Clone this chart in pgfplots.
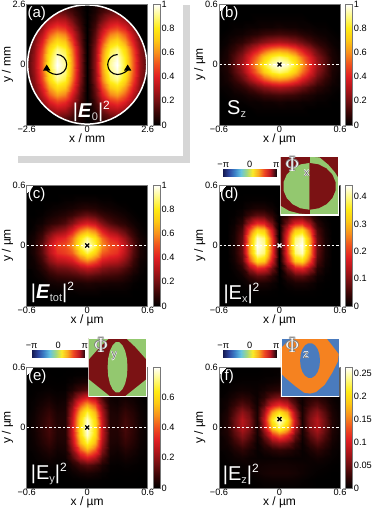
\documentclass[border=0pt]{standalone}
\usepackage{fontspec}
\setmainfont{Liberation Sans}
\usepackage{pgfplots}
\pgfplotsset{compat=1.18}
\usepackage{pgfplotstable}
\usetikzlibrary{arrows.meta}
\pgfplotstableread[row sep=crcr]{
v\\
0.01\\0.03\\0.05\\0.08\\0.10\\0.09\\0.06\\0.03\\0\\0.03\\0.06\\0.09\\0.10\\0.08\\0.05\\0.03\\0.01\\
0.02\\0.05\\0.10\\0.16\\0.19\\0.17\\0.12\\0.05\\0\\0.05\\0.12\\0.17\\0.19\\0.16\\0.10\\0.05\\0.02\\
0.04\\0.08\\0.16\\0.25\\0.31\\0.29\\0.19\\0.08\\0\\0.08\\0.19\\0.29\\0.31\\0.25\\0.16\\0.08\\0.04\\
0.06\\0.12\\0.24\\0.38\\0.46\\0.42\\0.29\\0.12\\0\\0.12\\0.29\\0.42\\0.46\\0.38\\0.24\\0.12\\0.06\\
0.07\\0.17\\0.32\\0.51\\0.62\\0.57\\0.38\\0.16\\0\\0.16\\0.38\\0.57\\0.62\\0.51\\0.32\\0.17\\0.07\\
0.09\\0.21\\0.40\\0.63\\0.77\\0.71\\0.48\\0.19\\0\\0.19\\0.48\\0.71\\0.77\\0.63\\0.40\\0.21\\0.09\\
0.11\\0.24\\0.47\\0.74\\0.90\\0.83\\0.56\\0.23\\0\\0.23\\0.56\\0.83\\0.90\\0.74\\0.47\\0.24\\0.11\\
0.12\\0.26\\0.51\\0.80\\0.97\\0.90\\0.60\\0.24\\0\\0.24\\0.60\\0.90\\0.97\\0.80\\0.51\\0.26\\0.12\\
0.12\\0.27\\0.52\\0.82\\1.00\\0.92\\0.62\\0.25\\0\\0.25\\0.62\\0.92\\1.00\\0.82\\0.52\\0.27\\0.12\\
0.12\\0.26\\0.51\\0.80\\0.97\\0.90\\0.60\\0.24\\0\\0.24\\0.60\\0.90\\0.97\\0.80\\0.51\\0.26\\0.12\\
0.11\\0.24\\0.47\\0.74\\0.90\\0.83\\0.56\\0.23\\0\\0.23\\0.56\\0.83\\0.90\\0.74\\0.47\\0.24\\0.11\\
0.09\\0.21\\0.40\\0.63\\0.77\\0.71\\0.48\\0.19\\0\\0.19\\0.48\\0.71\\0.77\\0.63\\0.40\\0.21\\0.09\\
0.07\\0.17\\0.32\\0.51\\0.62\\0.57\\0.38\\0.16\\0\\0.16\\0.38\\0.57\\0.62\\0.51\\0.32\\0.17\\0.07\\
0.06\\0.12\\0.24\\0.38\\0.46\\0.42\\0.29\\0.12\\0\\0.12\\0.29\\0.42\\0.46\\0.38\\0.24\\0.12\\0.06\\
0.04\\0.08\\0.16\\0.25\\0.31\\0.29\\0.19\\0.08\\0\\0.08\\0.19\\0.29\\0.31\\0.25\\0.16\\0.08\\0.04\\
0.02\\0.05\\0.10\\0.16\\0.19\\0.17\\0.12\\0.05\\0\\0.05\\0.12\\0.17\\0.19\\0.16\\0.10\\0.05\\0.02\\
0.01\\0.03\\0.05\\0.08\\0.10\\0.09\\0.06\\0.03\\0\\0.03\\0.06\\0.09\\0.10\\0.08\\0.05\\0.03\\0.01\\
}\tabA
\pgfplotstableread[row sep=crcr]{
v\\
0\\0\\0\\0\\0\\0\\0\\0\\0\\0\\0\\0\\0\\0\\0\\0\\0\\
0\\0\\0\\0\\0\\0\\0\\0\\0\\0\\0\\0\\0\\0\\0\\0\\0\\
0\\0\\0\\0\\0\\0.01\\0.01\\0.01\\0.01\\0.01\\0.01\\0.01\\0\\0\\0\\0\\0\\
0\\0\\0.01\\0.01\\0.02\\0.02\\0.03\\0.03\\0.04\\0.03\\0.03\\0.02\\0.02\\0.01\\0.01\\0\\0\\
0\\0.01\\0.02\\0.03\\0.05\\0.07\\0.10\\0.11\\0.12\\0.11\\0.10\\0.07\\0.05\\0.03\\0.02\\0.01\\0\\
0.01\\0.02\\0.05\\0.08\\0.13\\0.19\\0.24\\0.28\\0.30\\0.28\\0.24\\0.19\\0.13\\0.08\\0.05\\0.02\\0.01\\
0.01\\0.04\\0.09\\0.16\\0.26\\0.37\\0.48\\0.56\\0.59\\0.56\\0.48\\0.37\\0.26\\0.16\\0.09\\0.04\\0.01\\
0.02\\0.05\\0.14\\0.24\\0.39\\0.55\\0.71\\0.83\\0.88\\0.83\\0.71\\0.55\\0.39\\0.24\\0.14\\0.05\\0.02\\
0.02\\0.06\\0.16\\0.28\\0.44\\0.63\\0.82\\0.95\\1.00\\0.95\\0.82\\0.63\\0.44\\0.28\\0.16\\0.06\\0.02\\
0.02\\0.05\\0.14\\0.24\\0.39\\0.55\\0.71\\0.83\\0.88\\0.83\\0.71\\0.55\\0.39\\0.24\\0.14\\0.05\\0.02\\
0.01\\0.04\\0.09\\0.16\\0.26\\0.37\\0.48\\0.56\\0.59\\0.56\\0.48\\0.37\\0.26\\0.16\\0.09\\0.04\\0.01\\
0.01\\0.02\\0.05\\0.08\\0.13\\0.19\\0.24\\0.28\\0.30\\0.28\\0.24\\0.19\\0.13\\0.08\\0.05\\0.02\\0.01\\
0\\0.01\\0.02\\0.03\\0.05\\0.07\\0.10\\0.11\\0.12\\0.11\\0.10\\0.07\\0.05\\0.03\\0.02\\0.01\\0\\
0\\0\\0.01\\0.01\\0.02\\0.02\\0.03\\0.03\\0.04\\0.03\\0.03\\0.02\\0.02\\0.01\\0.01\\0\\0\\
0\\0\\0\\0\\0\\0.01\\0.01\\0.01\\0.01\\0.01\\0.01\\0.01\\0\\0\\0\\0\\0\\
0\\0\\0\\0\\0\\0\\0\\0\\0\\0\\0\\0\\0\\0\\0\\0\\0\\
0\\0\\0\\0\\0\\0\\0\\0\\0\\0\\0\\0\\0\\0\\0\\0\\0\\
}\tabB
\pgfplotstableread[row sep=crcr]{
v\\
0\\0\\0\\0\\0\\0\\0\\0\\0\\0\\0\\0\\0\\0\\0\\0\\0\\
0\\0\\0\\0\\0\\0\\0\\0\\0\\0\\0\\0\\0\\0\\0\\0\\0\\
0\\0\\0\\0.01\\0.01\\0.01\\0.01\\0.02\\0.02\\0.02\\0.01\\0.01\\0.01\\0.01\\0\\0\\0\\
0\\0\\0.01\\0.03\\0.04\\0.04\\0.05\\0.05\\0.06\\0.05\\0.05\\0.04\\0.04\\0.03\\0.01\\0\\0\\
0\\0.01\\0.03\\0.07\\0.10\\0.11\\0.12\\0.14\\0.16\\0.14\\0.12\\0.11\\0.10\\0.07\\0.03\\0.01\\0\\
0\\0.02\\0.07\\0.14\\0.19\\0.20\\0.23\\0.29\\0.33\\0.29\\0.23\\0.20\\0.19\\0.14\\0.07\\0.02\\0\\
0.01\\0.03\\0.11\\0.23\\0.31\\0.33\\0.37\\0.50\\0.58\\0.50\\0.37\\0.33\\0.31\\0.23\\0.11\\0.03\\0.01\\
0.01\\0.05\\0.15\\0.31\\0.43\\0.46\\0.52\\0.72\\0.85\\0.72\\0.52\\0.46\\0.43\\0.31\\0.15\\0.05\\0.01\\
0.01\\0.05\\0.16\\0.33\\0.47\\0.50\\0.60\\0.85\\1.00\\0.85\\0.60\\0.50\\0.47\\0.33\\0.16\\0.05\\0.01\\
0.01\\0.04\\0.12\\0.26\\0.38\\0.42\\0.55\\0.78\\0.90\\0.78\\0.55\\0.42\\0.38\\0.26\\0.12\\0.04\\0.01\\
0\\0.02\\0.07\\0.15\\0.22\\0.27\\0.38\\0.56\\0.64\\0.56\\0.38\\0.27\\0.22\\0.15\\0.07\\0.02\\0\\
0\\0.01\\0.03\\0.07\\0.10\\0.14\\0.22\\0.33\\0.38\\0.33\\0.22\\0.14\\0.10\\0.07\\0.03\\0.01\\0\\
0\\0\\0.01\\0.03\\0.05\\0.07\\0.10\\0.15\\0.18\\0.15\\0.10\\0.07\\0.05\\0.03\\0.01\\0\\0\\
0\\0\\0\\0.01\\0.02\\0.03\\0.04\\0.06\\0.07\\0.06\\0.04\\0.03\\0.02\\0.01\\0\\0\\0\\
0\\0\\0\\0\\0\\0.01\\0.01\\0.02\\0.02\\0.02\\0.01\\0.01\\0\\0\\0\\0\\0\\
0\\0\\0\\0\\0\\0\\0\\0\\0\\0\\0\\0\\0\\0\\0\\0\\0\\
0\\0\\0\\0\\0\\0\\0\\0\\0\\0\\0\\0\\0\\0\\0\\0\\0\\
}\tabC
\pgfplotstableread[row sep=crcr]{
v\\
0\\0\\0\\0\\0\\0\\0\\0\\0\\0\\0\\0\\0\\0\\0\\0\\0\\
0\\0\\0\\0\\0\\0\\0\\0\\0\\0\\0\\0\\0\\0\\0\\0\\0\\
0\\0\\0\\0.001\\0.003\\0.004\\0.004\\0.002\\0\\0.002\\0.004\\0.004\\0.003\\0.001\\0\\0\\0\\
0\\0\\0.001\\0.004\\0.014\\0.022\\0.021\\0.011\\0\\0.011\\0.021\\0.022\\0.014\\0.004\\0.001\\0\\0\\
0\\0\\0.003\\0.013\\0.045\\0.070\\0.066\\0.034\\0\\0.034\\0.066\\0.070\\0.045\\0.013\\0.003\\0\\0\\
0\\0\\0.008\\0.034\\0.118\\0.185\\0.172\\0.088\\0\\0.088\\0.172\\0.185\\0.118\\0.034\\0.008\\0\\0\\
0\\0\\0.015\\0.061\\0.213\\0.334\\0.312\\0.160\\0\\0.160\\0.312\\0.334\\0.213\\0.061\\0.015\\0\\0\\
0\\0\\0.019\\0.077\\0.269\\0.422\\0.394\\0.202\\0\\0.202\\0.394\\0.422\\0.269\\0.077\\0.019\\0\\0\\
0\\0\\0.020\\0.080\\0.280\\0.440\\0.410\\0.210\\0\\0.210\\0.410\\0.440\\0.280\\0.080\\0.020\\0\\0\\
0\\0\\0.019\\0.077\\0.269\\0.422\\0.394\\0.202\\0\\0.202\\0.394\\0.422\\0.269\\0.077\\0.019\\0\\0\\
0\\0\\0.015\\0.061\\0.213\\0.334\\0.312\\0.160\\0\\0.160\\0.312\\0.334\\0.213\\0.061\\0.015\\0\\0\\
0\\0\\0.008\\0.034\\0.118\\0.185\\0.172\\0.088\\0\\0.088\\0.172\\0.185\\0.118\\0.034\\0.008\\0\\0\\
0\\0\\0.003\\0.013\\0.045\\0.070\\0.066\\0.034\\0\\0.034\\0.066\\0.070\\0.045\\0.013\\0.003\\0\\0\\
0\\0\\0.001\\0.004\\0.014\\0.022\\0.021\\0.011\\0\\0.011\\0.021\\0.022\\0.014\\0.004\\0.001\\0\\0\\
0\\0\\0\\0.001\\0.003\\0.004\\0.004\\0.002\\0\\0.002\\0.004\\0.004\\0.003\\0.001\\0\\0\\0\\
0\\0\\0\\0\\0\\0\\0\\0\\0\\0\\0\\0\\0\\0\\0\\0\\0\\
0\\0\\0\\0\\0\\0\\0\\0\\0\\0\\0\\0\\0\\0\\0\\0\\0\\
}\tabD
\pgfplotstableread[row sep=crcr]{
v\\
0\\0\\0\\0\\0\\0\\0\\0\\0\\0\\0\\0\\0\\0\\0\\0\\0\\
0\\0\\0.001\\0.001\\0\\0.001\\0.003\\0.006\\0.008\\0.006\\0.003\\0.001\\0\\0.001\\0.001\\0\\0\\
0\\0.001\\0.002\\0.003\\0.002\\0.003\\0.014\\0.031\\0.040\\0.031\\0.014\\0.003\\0.002\\0.003\\0.002\\0.001\\0\\
0.001\\0.003\\0.007\\0.011\\0.006\\0.008\\0.042\\0.093\\0.119\\0.093\\0.042\\0.008\\0.006\\0.011\\0.007\\0.003\\0.001\\
0.002\\0.007\\0.018\\0.027\\0.014\\0.019\\0.106\\0.236\\0.300\\0.236\\0.106\\0.019\\0.014\\0.027\\0.018\\0.007\\0.002\\
0.003\\0.013\\0.033\\0.050\\0.025\\0.033\\0.182\\0.403\\0.514\\0.403\\0.182\\0.033\\0.025\\0.050\\0.033\\0.013\\0.003\\
0.005\\0.019\\0.049\\0.075\\0.038\\0.043\\0.238\\0.527\\0.672\\0.527\\0.238\\0.043\\0.038\\0.075\\0.049\\0.019\\0.005\\
0.006\\0.023\\0.060\\0.092\\0.046\\0.049\\0.272\\0.601\\0.766\\0.601\\0.272\\0.049\\0.046\\0.092\\0.060\\0.023\\0.006\\
0.006\\0.025\\0.065\\0.100\\0.050\\0.050\\0.280\\0.620\\0.790\\0.620\\0.280\\0.050\\0.050\\0.100\\0.065\\0.025\\0.006\\
0.006\\0.023\\0.060\\0.092\\0.046\\0.049\\0.272\\0.601\\0.766\\0.601\\0.272\\0.049\\0.046\\0.092\\0.060\\0.023\\0.006\\
0.005\\0.019\\0.049\\0.075\\0.038\\0.043\\0.238\\0.527\\0.672\\0.527\\0.238\\0.043\\0.038\\0.075\\0.049\\0.019\\0.005\\
0.003\\0.013\\0.033\\0.050\\0.025\\0.033\\0.182\\0.403\\0.514\\0.403\\0.182\\0.033\\0.025\\0.050\\0.033\\0.013\\0.003\\
0.002\\0.007\\0.018\\0.027\\0.014\\0.019\\0.106\\0.236\\0.300\\0.236\\0.106\\0.019\\0.014\\0.027\\0.018\\0.007\\0.002\\
0.001\\0.003\\0.007\\0.011\\0.006\\0.008\\0.042\\0.093\\0.119\\0.093\\0.042\\0.008\\0.006\\0.011\\0.007\\0.003\\0.001\\
0\\0.001\\0.002\\0.003\\0.002\\0.003\\0.014\\0.031\\0.040\\0.031\\0.014\\0.003\\0.002\\0.003\\0.002\\0.001\\0\\
0\\0\\0.001\\0.001\\0\\0.001\\0.003\\0.006\\0.008\\0.006\\0.003\\0.001\\0\\0.001\\0.001\\0\\0\\
0\\0\\0\\0\\0\\0\\0\\0\\0\\0\\0\\0\\0\\0\\0\\0\\0\\
}\tabE
\pgfplotstableread[row sep=crcr]{
v\\
0\\0\\0\\0\\0.001\\0.001\\0.002\\0.002\\0.002\\0.002\\0.002\\0.001\\0.001\\0\\0\\0\\0\\
0\\0\\0\\0\\0.001\\0.003\\0.005\\0.006\\0.006\\0.006\\0.005\\0.003\\0.001\\0\\0\\0\\0\\
0\\0\\0.001\\0.002\\0.004\\0.007\\0.010\\0.012\\0.012\\0.012\\0.010\\0.007\\0.004\\0.002\\0.001\\0\\0\\
0\\0.001\\0.003\\0.004\\0.005\\0.007\\0.008\\0.009\\0.009\\0.009\\0.008\\0.007\\0.005\\0.004\\0.003\\0.001\\0\\
0.001\\0.003\\0.006\\0.009\\0.006\\0.004\\0.004\\0.005\\0.006\\0.005\\0.004\\0.004\\0.006\\0.009\\0.006\\0.003\\0.001\\
0.002\\0.005\\0.013\\0.021\\0.013\\0.004\\0.011\\0.018\\0.022\\0.018\\0.011\\0.004\\0.013\\0.021\\0.013\\0.005\\0.002\\
0.003\\0.009\\0.024\\0.040\\0.026\\0.005\\0.025\\0.054\\0.065\\0.054\\0.025\\0.005\\0.026\\0.040\\0.024\\0.009\\0.003\\
0.004\\0.013\\0.037\\0.062\\0.043\\0.009\\0.050\\0.113\\0.140\\0.113\\0.050\\0.009\\0.043\\0.062\\0.037\\0.013\\0.004\\
0.005\\0.016\\0.047\\0.080\\0.058\\0.012\\0.078\\0.183\\0.225\\0.183\\0.078\\0.012\\0.058\\0.080\\0.047\\0.016\\0.005\\
0.005\\0.016\\0.048\\0.082\\0.060\\0.013\\0.090\\0.210\\0.260\\0.210\\0.090\\0.013\\0.060\\0.082\\0.048\\0.016\\0.005\\
0.004\\0.013\\0.038\\0.065\\0.048\\0.012\\0.072\\0.167\\0.205\\0.167\\0.072\\0.012\\0.048\\0.065\\0.038\\0.013\\0.004\\
0.003\\0.009\\0.024\\0.040\\0.030\\0.008\\0.042\\0.095\\0.115\\0.095\\0.042\\0.008\\0.030\\0.040\\0.024\\0.009\\0.003\\
0.002\\0.005\\0.012\\0.020\\0.016\\0.006\\0.020\\0.045\\0.055\\0.045\\0.020\\0.006\\0.016\\0.020\\0.012\\0.005\\0.002\\
0.001\\0.002\\0.005\\0.008\\0.007\\0.005\\0.010\\0.017\\0.020\\0.017\\0.010\\0.005\\0.007\\0.008\\0.005\\0.002\\0.001\\
0\\0.001\\0.002\\0.003\\0.003\\0.003\\0.004\\0.006\\0.008\\0.006\\0.004\\0.003\\0.003\\0.003\\0.002\\0.001\\0\\
0\\0\\0\\0.001\\0.001\\0.001\\0.002\\0.002\\0.003\\0.002\\0.002\\0.001\\0.001\\0.001\\0\\0\\0\\
0\\0\\0\\0\\0\\0\\0.001\\0.002\\0.002\\0.002\\0.001\\0\\0\\0\\0\\0\\0\\
}\tabF
\definecolor{phgreen}{RGB}{147,200,111}
\definecolor{phred}{RGB}{123,18,20}
\definecolor{phblue}{RGB}{74,123,189}
\definecolor{phorange}{RGB}{245,130,32}
\definecolor{bandgray}{RGB}{214,214,214}
\definecolor{framegray}{RGB}{120,120,120}
\pgfplotsset{
  colormap={hotk}{rgb255=(0,0,0) rgb255=(55,5,5) rgb255=(115,15,18) rgb255=(175,20,25) rgb255=(225,30,35) rgb255=(240,80,30) rgb255=(248,145,28) rgb255=(253,200,20) rgb255=(255,235,20) rgb255=(255,250,130) rgb255=(255,255,255)},
  colormap={phasek}{rgb255=(20,25,80) rgb255=(45,70,160) rgb255=(60,130,200) rgb255=(100,195,225) rgb255=(160,215,130) rgb255=(250,235,40) rgb255=(250,170,30) rgb255=(240,70,35) rgb255=(190,25,35) rgb255=(30,10,15)},
  heat/.style={scale only axis,width=121pt,height=121pt,colormap name=hotk,
    axis line style={framegray,line width=0.4pt},tick style={draw=none},
    tick label style={font=\fontsize{9.2}{10}\selectfont,inner sep=1pt},
    label style={font=\fontsize{12}{14}\selectfont},
    xlabel style={yshift=3pt},ylabel style={yshift=-5pt},
    enlargelimits=false,axis on top,clip=true,
    xmin=-0.6,xmax=0.6,ymin=-0.6,ymax=0.6,
    xtick={-0.6,0,0.6},xticklabels={−0.6\hspace{18pt},0,0.6},ytick={0,0.6},yticklabels={0,0.6},
    xlabel={x / µm},ylabel={y / µm},point meta min=0,point meta max=1,
    colorbar,
    colorbar style={at={(1.047,1)},anchor=north west,width=7pt,
      axis line style={framegray,line width=0.4pt},
      tick style={draw=none},
      ytick pos=right,yticklabel pos=right,
      tick label style={font=\fontsize{9.2}{10}\selectfont,inner sep=1pt}},
  },
  inset/.style={scale only axis,width=58.5pt,height=58.5pt,at={(#1)},anchor=south west,
    xmin=-1,xmax=1,ymin=-1,ymax=1,enlargelimits=false,ticks=none,axis line style={draw=none},clip=true},
  phasebar/.style={scale only axis,width=53pt,height=7.5pt,at={(#1)},anchor=north west,
    colormap name=phasek,xmin=0,xmax=2,ymin=0,ymax=1,enlargelimits=false,point meta min=0,point meta max=2,
    ytick=\empty,xtick={0,1,2},xticklabels={−π,0,π},xtick pos=upper,xticklabel pos=upper,
    tick style={draw=none},axis line style={draw=none},
    tick label style={font=\fontsize{9.2}{10}\selectfont,inner sep=1pt}},
}
\newcommand{\heatmap}[2]{\addplot[surf,shader=interp,mesh/cols=17,point meta=\thisrow{v}]
  table[x index=0,y index=0,x expr={#2*(mod(\coordindex,17)-8)},y expr={#2*(floor(\coordindex/17)-8)}]{#1};}
\newcommand{\dashline}{\draw[white,line width=1pt,dash pattern=on 2.5pt off 2pt] (axis cs:-0.6,0) -- (axis cs:0.6,0);}
\newcommand{\crossmark}[3]{\addplot[only marks,mark=x,mark size=2.8,#3,line width=1.3pt] coordinates {(#1,#2)};}
\newcommand{\phasebarplot}{\addplot[surf,shader=interp,mesh/cols=2,point meta=x] coordinates {(0,0) (2,0) (0,1) (2,1)};}
\newcommand{\insetframe}{\draw[white,line width=1.5pt] (rel axis cs:0,0) rectangle (rel axis cs:1,1);}
\newcommand{\poly}[2]{\addplot[fill=#1,draw=none,no marks] coordinates {#2} --cycle;}
\newcommand{\phitext}[5]{%
 \foreach \dx/\dy in {-0.6/0,0.6/0,0/0.6,0/-0.6,-0.4/0.4,0.4/0.4,-0.4/-0.4,0.4/-0.4}{\node[text=gray,font=\fontsize{20}{20}\selectfont] at (#1+\dx,#2+\dy) {$\Phi$};}
 \foreach \dx/\dy in {-0.4/0,0.4/0,0/0.4,0/-0.4}{\node[text=white,font=\fontsize{11}{11}\selectfont] at (#3+\dx,#4+\dy) {#5};}
 \node[text=white,font=\fontsize{20}{20}\selectfont] at (#1,#2) {$\Phi$};
 \node[text=black!55,font=\fontsize{11}{11}\selectfont] at (#3,#4) {#5};}
\newcommand{\biglabel}[3]{\node[white,anchor=west,inner sep=0pt,font=\fontsize{20}{20}\selectfont] at (#1,#2) {#3};}
\newcommand{\sub}[1]{\raisebox{-3pt}{\fontsize{11}{11}\selectfont\textcolor{white!85!black}{#1}}}
\newcommand{\super}{\raisebox{8pt}{\fontsize{12}{12}\selectfont 2}}
\begin{document}
\begin{tikzpicture}[x=1pt,y=1pt]
\useasboundingbox (0,0) rectangle (374,-512);
\fill[bandgray] (183,-5) rectangle (190,-163);
\fill[bandgray] (18,-156) rectangle (190,-163);
\begin{axis}[heat,at={(26.7pt,-125pt)},xmin=-2.6,xmax=2.6,ymin=-2.6,ymax=2.6,
 xtick={-2.6,0,2.6},xticklabels={−2.6\hspace{20pt},0,2.6},ytick={0,2.6},yticklabels={0,2.6},
 xlabel={x / mm},ylabel={y / mm},
 colorbar style={ytick={0,0.2,0.4,0.6,0.8,1},yticklabels={0,0.2,0.4,0.6,0.8,1}}]
\heatmap{\tabA}{0.325}
\fill[black,even odd rule] (rel axis cs:0,0) rectangle (rel axis cs:1,1) (axis cs:0,0) circle [radius=2.56];
\draw[white,line width=1.5pt] (axis cs:0,0) circle [radius=2.56];
\draw[black,line width=1.1pt,-{Triangle[length=6pt,width=7pt]}] (axis cs:-1.31,0.43) arc [start angle=90,end angle=-180,radius=10pt];
\draw[black,line width=1.1pt,-{Triangle[length=6pt,width=7pt]}] (axis cs:1.31,0.43) arc [start angle=90,end angle=360,radius=10pt];
\end{axis}
\begin{axis}[heat,at={(219pt,-125pt)},
 colorbar style={ytick={0,0.2,0.4,0.6,0.8,1},yticklabels={0,0.2,0.4,0.6,0.8,1}}]
\heatmap{\tabB}{0.075}
\dashline
\crossmark{0}{0}{black}
\end{axis}
\begin{axis}[heat,at={(26.7pt,-306pt)},
 colorbar style={ytick={0,0.2,0.4,0.6,0.8,1},yticklabels={0,0.2,0.4,0.6,0.8,1}}]
\heatmap{\tabC}{0.075}
\dashline
\crossmark{0}{0}{black}
\end{axis}
\begin{axis}[heat,at={(219pt,-306pt)},point meta max=0.443,
 colorbar style={ytick={0,0.1,0.2,0.3,0.4},yticklabels={0,0.1,0.2,0.3,0.4}}]
\heatmap{\tabD}{0.075}
\dashline
\crossmark{0}{0}{white}
\end{axis}
\begin{axis}[heat,at={(26.7pt,-488pt)},point meta max=0.797,
 colorbar style={ytick={0,0.2,0.4,0.6},yticklabels={0,0.2,0.4,0.6}}]
\heatmap{\tabE}{0.075}
\dashline
\crossmark{0}{0}{black}
\end{axis}
\begin{axis}[heat,at={(219pt,-488pt)},point meta max=0.263,
 colorbar style={ytick={0,0.05,0.1,0.15,0.2,0.25},yticklabels={0,0.05,0.1,0.15,0.2,0.25}}]
\heatmap{\tabF}{0.075}
\dashline
\crossmark{0}{0.083}{black}
\end{axis}
\begin{axis}[phasebar={223.3pt,-168.5pt}]\phasebarplot\end{axis}
\begin{axis}[phasebar={31.7pt,-350pt}]\phasebarplot\end{axis}
\begin{axis}[phasebar={223.3pt,-350pt}]\phasebarplot\end{axis}
\begin{axis}[inset={280.3pt,-215pt}]
\poly{phgreen}{(-1,-1)(1,-1)(1,1)(-1,1)}
\poly{phred}{(-1,-1)(0,-1)(0,1)(-1,1)}
\poly{phgreen}{(0,0.78)(-0.31,0.73)(-0.58,0.59)(-0.78,0.38)(-0.89,0.12)(-0.89,-0.16)(-0.78,-0.42)(-0.58,-0.63)(-0.31,-0.77)(0,-0.82)}
\poly{phred}{(0,0.78)(0.31,0.73)(0.58,0.59)(0.78,0.38)(0.89,0.12)(0.89,-0.16)(0.78,-0.42)(0.58,-0.63)(0.31,-0.77)(0,-0.82)}
\poly{phgreen}{(-1,-1)(-1,-0.68)(-0.7,-0.86)(-0.35,-0.95)(0,-0.98)(0,-1)}
\poly{phred}{(0,1)(0.35,0.97)(0.65,0.72)(0.88,0.45)(1,0.25)(1,1)}
\insetframe
\end{axis}
\begin{axis}[inset={88.3pt,-396.5pt}]
\poly{phred}{(-1,-1)(1,-1)(1,1)(-1,1)}
\poly{phgreen}{(-1,1)(-0.28,1)(-0.6,0.7)(-1,0.25)}
\poly{phgreen}{(1,1)(0.28,1)(0.6,0.7)(1,0.25)}
\poly{phgreen}{(-1,-1)(-1,-0.4)(-0.6,-0.72)(-0.25,-1)}
\poly{phgreen}{(1,-1)(1,-0.4)(0.6,-0.72)(0.25,-1)}
\poly{phgreen}{(0.34,0)(0.32,0.30)(0.26,0.56)(0.17,0.75)(0.06,0.86)(-0.06,0.86)(-0.17,0.75)(-0.26,0.56)(-0.32,0.30)(-0.34,0)(-0.32,-0.30)(-0.26,-0.56)(-0.17,-0.75)(-0.06,-0.86)(0.06,-0.86)(0.17,-0.75)(0.26,-0.56)(0.32,-0.30)}
\insetframe
\end{axis}
\begin{axis}[inset={280.8pt,-396.5pt}]
\poly{phblue}{(-1,-1)(1,-1)(1,1)(-1,1)}
\poly{phorange}{(-0.55,1)(0.55,1)(0.75,0.75)(0.98,0.45)(0.95,0.2)(0.75,-0.2)(0.5,-0.6)(0.2,-0.85)(0,-0.9)(-0.2,-0.87)(-0.5,-0.65)(-0.8,-0.4)(-1,-0.2)(-1,0.65)(-0.8,0.85)}
\poly{phblue}{(0.34,0.23)(0.32,0.44)(0.26,0.62)(0.17,0.75)(0.06,0.82)(-0.06,0.82)(-0.17,0.75)(-0.26,0.62)(-0.32,0.44)(-0.34,0.23)(-0.32,0.02)(-0.26,-0.16)(-0.17,-0.29)(-0.06,-0.36)(0.06,-0.36)(0.17,-0.29)(0.26,-0.16)(0.32,0.02)}
\insetframe
\end{axis}
\phitext{292.3}{-164}{306.7}{-173.3}{x}
\phitext{101}{-345.3}{114.3}{-356}{y}
\phitext{292.3}{-345.3}{306}{-355.3}{z}
\node[white,font=\fontsize{15}{15}\selectfont] at (36.7,-13.5) {(a)};
\node[white,font=\fontsize{15}{15}\selectfont] at (229.3,-13.5) {(b)};
\node[white,font=\fontsize{15}{15}\selectfont] at (36.7,-194.5) {(c)};
\node[white,font=\fontsize{15}{15}\selectfont] at (229.3,-195) {(d)};
\node[white,font=\fontsize{15}{15}\selectfont] at (37.3,-376.7) {(e)};
\node[white,font=\fontsize{15}{15}\selectfont] at (226.7,-376.7) {(f)};
\biglabel{72.7}{-111.7}{|\textbf{\textit{E}}\sub{0}|\super}
\biglabel{227}{-109}{S\sub{z}}
\biglabel{30.7}{-292.7}{|\textbf{\textit{E}}\sub{tot}|\super}
\biglabel{223.3}{-293.3}{|E\sub{x}|\super}
\biglabel{30.7}{-474}{|E\sub{y}|\super}
\biglabel{222.7}{-474}{|E\sub{z}|\super}
\end{tikzpicture}
\end{document}
